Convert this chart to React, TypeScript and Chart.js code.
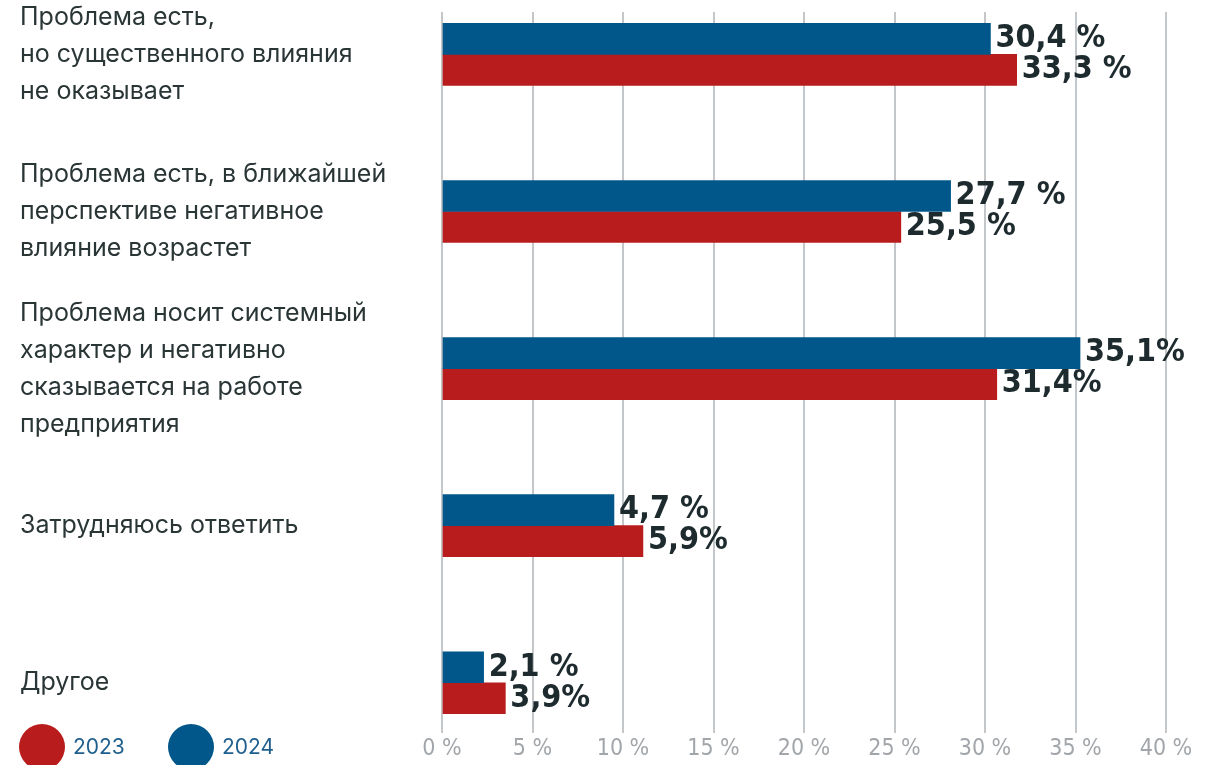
import React, { useEffect, useRef } from "react";
import { Chart, registerables } from "chart.js";

Chart.register(...registerables);

const categories: string[][] = [
  ["Проблема есть,", "но существенного влияния", "не оказывает"],
  ["Проблема есть, в ближайшей", "перспективе негативное", "влияние возрастет"],
  ["Проблема носит системный", "характер и негативно", "сказывается на работе", "предприятия"],
  ["Затрудняюсь ответить"],
  ["Другое"],
];

// bar lengths as drawn in the picture (percent)
const bars2024: number[] = [30.3, 28.1, 35.25, 9.5, 2.3];
const bars2023: number[] = [31.75, 25.35, 30.65, 11.1, 3.5];

// value labels as printed in the picture
const labels2024: string[] = ["30,4 %", "27,7 %", "35,1%", "4,7 %", "2,1 %"];
const labels2023: string[] = ["33,3 %", "25,5 %", "31,4%", "5,9%", "3,9%"];

const xTicks: number[] = [0, 5, 10, 15, 20, 25, 30, 35, 40];

const BLUE = "#02578A";
const RED = "#B91C1C";

export default function App() {
  const ref = useRef<HTMLCanvasElement | null>(null);

  useEffect(() => {
    if (!ref.current) return;

    const valueLabels: Record<string, string[]> = { "2024": labels2024, "2023": labels2023 };

    const dataLabelPlugin = {
      id: "valueLabels",
      afterDatasetsDraw(chart: any) {
        const ctx = chart.ctx;
        ctx.save();
        ctx.font = "bold 32px 'DejaVu Sans Condensed', 'DejaVu Sans', sans-serif";
        ctx.fillStyle = "#1E2B2E";
        ctx.textAlign = "left";
        ctx.textBaseline = "middle";
        chart.data.datasets.forEach((ds: any, di: number) => {
          const meta = chart.getDatasetMeta(di);
          const texts = valueLabels[ds.label];
          meta.data.forEach((el: any, i: number) => {
            ctx.fillText(texts[i], el.x + 5, el.y);
          });
        });
        ctx.restore();
      },
    };

    const legendPlugin = {
      id: "circleLegend",
      afterDraw(chart: any) {
        const ctx = chart.ctx;
        const items = [...chart.data.datasets].sort((a: any, b: any) =>
          String(a.label).localeCompare(String(b.label))
        );
        ctx.save();
        ctx.font = "21px Inter, 'Noto Sans', sans-serif";
        ctx.textBaseline = "middle";
        ctx.textAlign = "left";
        let x = 19;
        const cy = 747;
        const r = 23;
        items.forEach((ds: any) => {
          ctx.beginPath();
          ctx.arc(x + r, cy, r, 0, Math.PI * 2);
          ctx.fillStyle = ds.backgroundColor;
          ctx.fill();
          ctx.fillStyle = "#1F5F8E";
          ctx.fillText(ds.label, x + 2 * r + 8, cy + 1);
          x += 149;
        });
        ctx.restore();
      },
    };

    const chart = new Chart(ref.current, {
      type: "bar",
      data: {
        datasets: [
          {
            label: "2024",
            data: bars2024.map((v, i) => ({ x: v, y: i })),
            backgroundColor: BLUE,
            barThickness: 31,
          },
          {
            label: "2023",
            data: bars2023.map((v, i) => ({ x: v, y: i })),
            backgroundColor: RED,
            barThickness: 31,
          },
        ],
      },
      options: {
        indexAxis: "y",
        animation: false,
        responsive: true,
        maintainAspectRatio: false,
        layout: { padding: { top: 12, left: 20, right: 48, bottom: 0 } },
        plugins: {
          legend: { display: false },
          tooltip: { enabled: false },
        },
        scales: {
          x: {
            type: "linear",
            position: "bottom",
            min: 0,
            max: 40,
            afterBuildTicks: (s: any) => {
              s.ticks = xTicks.map((v) => ({ value: v }));
            },
            afterFit: (s: any) => {
              s.height = 32;
              s.paddingLeft = 0;
              s.paddingRight = 0;
            },
            border: { display: false },
            grid: {
              color: "#C3C7CA",
              lineWidth: 2,
              drawTicks: false,
            },
            ticks: {
              padding: 2,
              color: "#A2A6AA",
              font: { family: "'Liberation Sans Narrow', 'DejaVu Sans Condensed', sans-serif", size: 23 },
              callback: (v: any) => `${v} %`,
            },
          },
          y: {
            type: "linear",
            reverse: true,
            offset: false,
            min: -0.27,
            max: 4.32,
            afterBuildTicks: (s: any) => {
              s.ticks = categories.map((_, i) => ({ value: i }));
            },
            afterFit: (s: any) => {
              s.width = 422;
              s.paddingTop = 0;
              s.paddingBottom = 0;
            },
            border: { display: false },
            grid: { display: false, drawTicks: false, offset: false },
            ticks: {
              crossAlign: "far",
              autoSkip: false,
              padding: 0,
              color: "#2A3536",
              font: { family: "Inter, 'Noto Sans', sans-serif", size: 25, lineHeight: 1.48 },
              callback: (v: any) => categories[Math.round(v)] ?? "",
            },
          },
        },
      },
      plugins: [dataLabelPlugin, legendPlugin],
    } as any);

    return () => chart.destroy();
  }, []);

  return (
    <div style={{ position: "fixed", left: 0, top: 0, width: 1214, height: 765, background: "#fff" }}>
      <canvas ref={ref} />
    </div>
  );
}
